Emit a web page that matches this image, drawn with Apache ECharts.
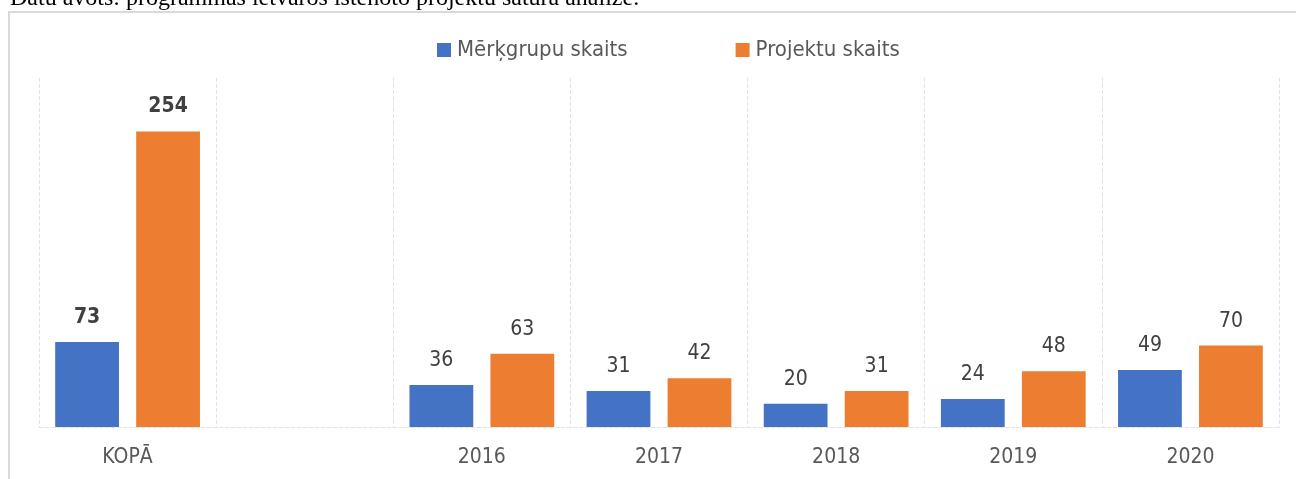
<!DOCTYPE html>
<html>
<head>
<meta charset="utf-8">
<script src="https://cdn.jsdelivr.net/npm/echarts@6/dist/echarts.min.js"></script>
<style>
  html, body { margin: 0; padding: 0; background: #fff; }
  #chart { width: 1296px; height: 479px; }
</style>
</head>
<body>
<div id="chart"></div>
<script>
// dati
var categories = ['KOPĀ', '', '2016', '2017', '2018', '2019', '2020'];
var merkgrupas = [73, null, 36, 31, 20, 24, 49];
var projekti = [254, null, 63, 42, 31, 48, 70];
var seriesNames = ['Mērķgrupu skaits', 'Projektu skaits'];
var caption = 'Datu avots: programmas ietvaros īstenoto projektu satura analīze.';

var font = '"Liberation Sans Narrow", "DejaVu Sans Condensed", sans-serif';

var myChart = echarts.init(document.getElementById('chart'));

// pirmā kategorija (KOPĀ) ar treknu uzrakstu
function toData(arr) {
  return arr.map(function (v, i) {
    if (i === 0) {
      return { value: v, label: { fontWeight: 'bold' } };
    }
    return v;
  });
}

var labelCfg = {
  show: true,
  position: 'top',
  distance: 14,
  fontFamily: font,
  fontSize: 21,
  color: '#404040'
};

var option = {
  backgroundColor: '#fff',
  animation: false,
  title: {
    text: caption,
    left: 5,
    top: -18,
    textStyle: {
      fontFamily: '"Liberation Serif", serif',
      fontSize: 24,
      fontWeight: 'normal',
      color: '#000'
    }
  },
  graphic: [
    {
      type: 'rect',
      shape: { x: 9, y: 12, width: 1400, height: 600 },
      style: { fill: 'none', stroke: '#d9d9d9', lineWidth: 2 },
      z: -1
    }
  ],
  legend: {
    top: 34,
    left: 432,
    itemWidth: 14,
    itemHeight: 14,
    itemGap: 108,
    icon: 'rect',
    textStyle: { fontFamily: font, fontSize: 22, color: '#595959', padding: [0, 0, 0, 1] },
    data: seriesNames
  },
  grid: { left: 39, right: 17, top: 78, bottom: 52 },
  xAxis: {
    type: 'category',
    data: categories,
    axisTick: { show: false },
    axisLine: { lineStyle: { color: '#e3e3e3', type: 'dashed' } },
    axisLabel: { fontFamily: font, fontSize: 21, color: '#595959', margin: 20 },
    splitLine: { show: true, interval: 0, lineStyle: { color: '#e3e3e3', type: 'dashed' } }
  },
  yAxis: {
    type: 'value',
    min: 0,
    max: 300,
    show: false
  },
  series: [
    {
      name: seriesNames[0],
      type: 'bar',
      barWidth: '36%',
      barGap: '27%',
      itemStyle: { color: '#4472c4' },
      label: labelCfg,
      data: toData(merkgrupas)
    },
    {
      name: seriesNames[1],
      type: 'bar',
      barWidth: '36%',
      itemStyle: { color: '#ed7d31' },
      label: labelCfg,
      data: toData(projekti)
    }
  ]
};

myChart.setOption(option);
</script>
</body>
</html>
